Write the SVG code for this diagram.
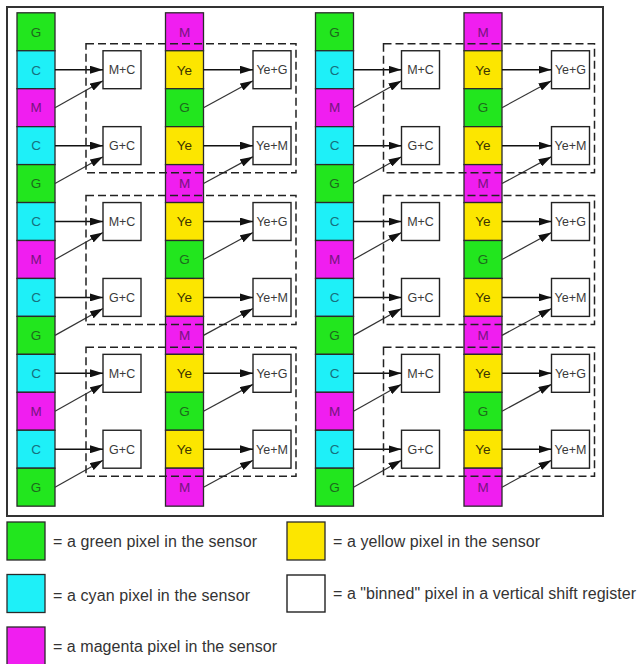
<svg xmlns="http://www.w3.org/2000/svg" width="637" height="664" viewBox="0 0 637 664">
<style>
text{font-family:"Liberation Sans",Arial,sans-serif}
.cg{fill:#22e61e;stroke:#2a2a2a;stroke-width:1.3}
.cc{fill:#1ef0f8;stroke:#2a2a2a;stroke-width:1.3}
.cm{fill:#f01ef0;stroke:#2a2a2a;stroke-width:1.3}
.cy{fill:#fce600;stroke:#2a2a2a;stroke-width:1.3}
.bx{fill:#fff;stroke:#222;stroke-width:1.4}
.t{font-size:13.5px;text-anchor:middle}
.tg{fill:#1d6a1d}.tc{fill:#17707e}.tm{fill:#76157f}.ty{fill:#3d3400}
.bt{font-size:12.5px;text-anchor:middle;fill:#3a3a3a}
.h{stroke:#111;stroke-width:1.5;fill:none}
.d{stroke:#333;stroke-width:1.2;fill:none}
.dash{fill:none;stroke:#222;stroke-width:1.5;stroke-dasharray:8 4}
.lt{font-size:16px;fill:#333}
</style>
<defs>
<marker id="ah" markerUnits="userSpaceOnUse" markerWidth="13" markerHeight="8" refX="13" refY="4" orient="auto"><path d="M0,0 L13,4 L0,8 z" fill="#111"/></marker>
</defs>
<rect id="frame" x="7" y="7" width="596" height="509" fill="#fff" stroke="#333" stroke-width="2"/>

<g id="colA">
<g id="a0" transform="translate(17,12.8)"><rect class="cg" width="38" height="37.95"/><text class="t tg" x="19" y="23.8">G</text></g>
<g id="a1" transform="translate(17,50.75)"><rect class="cc" width="38" height="37.95"/><text class="t tc" x="19" y="23.8">C</text></g>
<g id="a2" transform="translate(17,88.7)"><rect class="cm" width="38" height="37.95"/><text class="t tm" x="19" y="23.8">M</text></g>
<g id="a3" transform="translate(17,126.65)"><rect class="cc" width="38" height="37.95"/><text class="t tc" x="19" y="23.8">C</text></g>
<g id="a4" transform="translate(17,164.6)"><rect class="cg" width="38" height="37.95"/><text class="t tg" x="19" y="23.8">G</text></g>
<g id="a5" transform="translate(17,202.55)"><rect class="cc" width="38" height="37.95"/><text class="t tc" x="19" y="23.8">C</text></g>
<g id="a6" transform="translate(17,240.5)"><rect class="cm" width="38" height="37.95"/><text class="t tm" x="19" y="23.8">M</text></g>
<g id="a7" transform="translate(17,278.45)"><rect class="cc" width="38" height="37.95"/><text class="t tc" x="19" y="23.8">C</text></g>
<g id="a8" transform="translate(17,316.4)"><rect class="cg" width="38" height="37.95"/><text class="t tg" x="19" y="23.8">G</text></g>
<g id="a9" transform="translate(17,354.35)"><rect class="cc" width="38" height="37.95"/><text class="t tc" x="19" y="23.8">C</text></g>
<g id="a10" transform="translate(17,392.3)"><rect class="cm" width="38" height="37.95"/><text class="t tm" x="19" y="23.8">M</text></g>
<g id="a11" transform="translate(17,430.25)"><rect class="cc" width="38" height="37.95"/><text class="t tc" x="19" y="23.8">C</text></g>
<g id="a12" transform="translate(17,468.2)"><rect class="cg" width="38" height="37.95"/><text class="t tg" x="19" y="23.8">G</text></g>
</g>

<g id="colB">
<g id="b0" transform="translate(165.5,12.8)"><rect class="cm" width="38" height="37.95"/><text class="t tm" x="19" y="23.8">M</text></g>
<g id="b1" transform="translate(165.5,50.75)"><rect class="cy" width="38" height="37.95"/><text class="t ty" x="19" y="23.8">Ye</text></g>
<g id="b2" transform="translate(165.5,88.7)"><rect class="cg" width="38" height="37.95"/><text class="t tg" x="19" y="23.8">G</text></g>
<g id="b3" transform="translate(165.5,126.65)"><rect class="cy" width="38" height="37.95"/><text class="t ty" x="19" y="23.8">Ye</text></g>
<g id="b4" transform="translate(165.5,164.6)"><rect class="cm" width="38" height="37.95"/><text class="t tm" x="19" y="23.8">M</text></g>
<g id="b5" transform="translate(165.5,202.55)"><rect class="cy" width="38" height="37.95"/><text class="t ty" x="19" y="23.8">Ye</text></g>
<g id="b6" transform="translate(165.5,240.5)"><rect class="cg" width="38" height="37.95"/><text class="t tg" x="19" y="23.8">G</text></g>
<g id="b7" transform="translate(165.5,278.45)"><rect class="cy" width="38" height="37.95"/><text class="t ty" x="19" y="23.8">Ye</text></g>
<g id="b8" transform="translate(165.5,316.4)"><rect class="cm" width="38" height="37.95"/><text class="t tm" x="19" y="23.8">M</text></g>
<g id="b9" transform="translate(165.5,354.35)"><rect class="cy" width="38" height="37.95"/><text class="t ty" x="19" y="23.8">Ye</text></g>
<g id="b10" transform="translate(165.5,392.3)"><rect class="cg" width="38" height="37.95"/><text class="t tg" x="19" y="23.8">G</text></g>
<g id="b11" transform="translate(165.5,430.25)"><rect class="cy" width="38" height="37.95"/><text class="t ty" x="19" y="23.8">Ye</text></g>
<g id="b12" transform="translate(165.5,468.2)"><rect class="cm" width="38" height="37.95"/><text class="t tm" x="19" y="23.8">M</text></g>
</g>

<g id="colC">
<g id="c0" transform="translate(315.5,12.8)"><rect class="cg" width="38" height="37.95"/><text class="t tg" x="19" y="23.8">G</text></g>
<g id="c1" transform="translate(315.5,50.75)"><rect class="cc" width="38" height="37.95"/><text class="t tc" x="19" y="23.8">C</text></g>
<g id="c2" transform="translate(315.5,88.7)"><rect class="cm" width="38" height="37.95"/><text class="t tm" x="19" y="23.8">M</text></g>
<g id="c3" transform="translate(315.5,126.65)"><rect class="cc" width="38" height="37.95"/><text class="t tc" x="19" y="23.8">C</text></g>
<g id="c4" transform="translate(315.5,164.6)"><rect class="cg" width="38" height="37.95"/><text class="t tg" x="19" y="23.8">G</text></g>
<g id="c5" transform="translate(315.5,202.55)"><rect class="cc" width="38" height="37.95"/><text class="t tc" x="19" y="23.8">C</text></g>
<g id="c6" transform="translate(315.5,240.5)"><rect class="cm" width="38" height="37.95"/><text class="t tm" x="19" y="23.8">M</text></g>
<g id="c7" transform="translate(315.5,278.45)"><rect class="cc" width="38" height="37.95"/><text class="t tc" x="19" y="23.8">C</text></g>
<g id="c8" transform="translate(315.5,316.4)"><rect class="cg" width="38" height="37.95"/><text class="t tg" x="19" y="23.8">G</text></g>
<g id="c9" transform="translate(315.5,354.35)"><rect class="cc" width="38" height="37.95"/><text class="t tc" x="19" y="23.8">C</text></g>
<g id="c10" transform="translate(315.5,392.3)"><rect class="cm" width="38" height="37.95"/><text class="t tm" x="19" y="23.8">M</text></g>
<g id="c11" transform="translate(315.5,430.25)"><rect class="cc" width="38" height="37.95"/><text class="t tc" x="19" y="23.8">C</text></g>
<g id="c12" transform="translate(315.5,468.2)"><rect class="cg" width="38" height="37.95"/><text class="t tg" x="19" y="23.8">G</text></g>
</g>

<g id="colD">
<g id="d0" transform="translate(464,12.8)"><rect class="cm" width="38" height="37.95"/><text class="t tm" x="19" y="23.8">M</text></g>
<g id="d1" transform="translate(464,50.75)"><rect class="cy" width="38" height="37.95"/><text class="t ty" x="19" y="23.8">Ye</text></g>
<g id="d2" transform="translate(464,88.7)"><rect class="cg" width="38" height="37.95"/><text class="t tg" x="19" y="23.8">G</text></g>
<g id="d3" transform="translate(464,126.65)"><rect class="cy" width="38" height="37.95"/><text class="t ty" x="19" y="23.8">Ye</text></g>
<g id="d4" transform="translate(464,164.6)"><rect class="cm" width="38" height="37.95"/><text class="t tm" x="19" y="23.8">M</text></g>
<g id="d5" transform="translate(464,202.55)"><rect class="cy" width="38" height="37.95"/><text class="t ty" x="19" y="23.8">Ye</text></g>
<g id="d6" transform="translate(464,240.5)"><rect class="cg" width="38" height="37.95"/><text class="t tg" x="19" y="23.8">G</text></g>
<g id="d7" transform="translate(464,278.45)"><rect class="cy" width="38" height="37.95"/><text class="t ty" x="19" y="23.8">Ye</text></g>
<g id="d8" transform="translate(464,316.4)"><rect class="cm" width="38" height="37.95"/><text class="t tm" x="19" y="23.8">M</text></g>
<g id="d9" transform="translate(464,354.35)"><rect class="cy" width="38" height="37.95"/><text class="t ty" x="19" y="23.8">Ye</text></g>
<g id="d10" transform="translate(464,392.3)"><rect class="cg" width="38" height="37.95"/><text class="t tg" x="19" y="23.8">G</text></g>
<g id="d11" transform="translate(464,430.25)"><rect class="cy" width="38" height="37.95"/><text class="t ty" x="19" y="23.8">Ye</text></g>
<g id="d12" transform="translate(464,468.2)"><rect class="cm" width="38" height="37.95"/><text class="t tm" x="19" y="23.8">M</text></g>
</g>

<g id="boxes">
<g id="bl1" transform="translate(103,50.75)"><rect class="bx" width="38" height="37.95"/><text class="bt" x="19" y="23.3">M+C</text></g>
<g id="bl2" transform="translate(103,126.65)"><rect class="bx" width="38" height="37.95"/><text class="bt" x="19" y="23.3">G+C</text></g>
<g id="bl3" transform="translate(103,202.55)"><rect class="bx" width="38" height="37.95"/><text class="bt" x="19" y="23.3">M+C</text></g>
<g id="bl4" transform="translate(103,278.45)"><rect class="bx" width="38" height="37.95"/><text class="bt" x="19" y="23.3">G+C</text></g>
<g id="bl5" transform="translate(103,354.35)"><rect class="bx" width="38" height="37.95"/><text class="bt" x="19" y="23.3">M+C</text></g>
<g id="bl6" transform="translate(103,430.25)"><rect class="bx" width="38" height="37.95"/><text class="bt" x="19" y="23.3">G+C</text></g>
<g id="yl1" transform="translate(253,50.75)"><rect class="bx" width="38" height="37.95"/><text class="bt" x="19" y="23.3">Ye+G</text></g>
<g id="yl2" transform="translate(253,126.65)"><rect class="bx" width="38" height="37.95"/><text class="bt" x="19" y="23.3">Ye+M</text></g>
<g id="yl3" transform="translate(253,202.55)"><rect class="bx" width="38" height="37.95"/><text class="bt" x="19" y="23.3">Ye+G</text></g>
<g id="yl4" transform="translate(253,278.45)"><rect class="bx" width="38" height="37.95"/><text class="bt" x="19" y="23.3">Ye+M</text></g>
<g id="yl5" transform="translate(253,354.35)"><rect class="bx" width="38" height="37.95"/><text class="bt" x="19" y="23.3">Ye+G</text></g>
<g id="yl6" transform="translate(253,430.25)"><rect class="bx" width="38" height="37.95"/><text class="bt" x="19" y="23.3">Ye+M</text></g>
<g id="br1" transform="translate(401.5,50.75)"><rect class="bx" width="38" height="37.95"/><text class="bt" x="19" y="23.3">M+C</text></g>
<g id="br2" transform="translate(401.5,126.65)"><rect class="bx" width="38" height="37.95"/><text class="bt" x="19" y="23.3">G+C</text></g>
<g id="br3" transform="translate(401.5,202.55)"><rect class="bx" width="38" height="37.95"/><text class="bt" x="19" y="23.3">M+C</text></g>
<g id="br4" transform="translate(401.5,278.45)"><rect class="bx" width="38" height="37.95"/><text class="bt" x="19" y="23.3">G+C</text></g>
<g id="br5" transform="translate(401.5,354.35)"><rect class="bx" width="38" height="37.95"/><text class="bt" x="19" y="23.3">M+C</text></g>
<g id="br6" transform="translate(401.5,430.25)"><rect class="bx" width="38" height="37.95"/><text class="bt" x="19" y="23.3">G+C</text></g>
<g id="yr1" transform="translate(551.5,50.75)"><rect class="bx" width="38" height="37.95"/><text class="bt" x="19" y="23.3">Ye+G</text></g>
<g id="yr2" transform="translate(551.5,126.65)"><rect class="bx" width="38" height="37.95"/><text class="bt" x="19" y="23.3">Ye+M</text></g>
<g id="yr3" transform="translate(551.5,202.55)"><rect class="bx" width="38" height="37.95"/><text class="bt" x="19" y="23.3">Ye+G</text></g>
<g id="yr4" transform="translate(551.5,278.45)"><rect class="bx" width="38" height="37.95"/><text class="bt" x="19" y="23.3">Ye+M</text></g>
<g id="yr5" transform="translate(551.5,354.35)"><rect class="bx" width="38" height="37.95"/><text class="bt" x="19" y="23.3">Ye+G</text></g>
<g id="yr6" transform="translate(551.5,430.25)"><rect class="bx" width="38" height="37.95"/><text class="bt" x="19" y="23.3">Ye+M</text></g>
</g>

<g id="connectors">
<line class="h" x1="55" y1="69.73" x2="103" y2="69.73" marker-end="url(#ah)"/>
<line class="h" x1="55" y1="145.63" x2="103" y2="145.63" marker-end="url(#ah)"/>
<line class="h" x1="55" y1="221.53" x2="103" y2="221.53" marker-end="url(#ah)"/>
<line class="h" x1="55" y1="297.43" x2="103" y2="297.43" marker-end="url(#ah)"/>
<line class="h" x1="55" y1="373.33" x2="103" y2="373.33" marker-end="url(#ah)"/>
<line class="h" x1="55" y1="449.23" x2="103" y2="449.23" marker-end="url(#ah)"/>
<line class="d" x1="55" y1="107.68" x2="103" y2="80.75" marker-end="url(#ah)"/>
<line class="d" x1="55" y1="183.58" x2="103" y2="156.65" marker-end="url(#ah)"/>
<line class="d" x1="55" y1="259.48" x2="103" y2="232.55" marker-end="url(#ah)"/>
<line class="d" x1="55" y1="335.38" x2="103" y2="308.45" marker-end="url(#ah)"/>
<line class="d" x1="55" y1="411.28" x2="103" y2="384.35" marker-end="url(#ah)"/>
<line class="d" x1="55" y1="487.18" x2="103" y2="460.25" marker-end="url(#ah)"/>

<line class="h" x1="203.5" y1="69.73" x2="253" y2="69.73" marker-end="url(#ah)"/>
<line class="h" x1="203.5" y1="145.63" x2="253" y2="145.63" marker-end="url(#ah)"/>
<line class="h" x1="203.5" y1="221.53" x2="253" y2="221.53" marker-end="url(#ah)"/>
<line class="h" x1="203.5" y1="297.43" x2="253" y2="297.43" marker-end="url(#ah)"/>
<line class="h" x1="203.5" y1="373.33" x2="253" y2="373.33" marker-end="url(#ah)"/>
<line class="h" x1="203.5" y1="449.23" x2="253" y2="449.23" marker-end="url(#ah)"/>
<line class="d" x1="203.5" y1="107.68" x2="253" y2="80.75" marker-end="url(#ah)"/>
<line class="d" x1="203.5" y1="183.58" x2="253" y2="156.65" marker-end="url(#ah)"/>
<line class="d" x1="203.5" y1="259.48" x2="253" y2="232.55" marker-end="url(#ah)"/>
<line class="d" x1="203.5" y1="335.38" x2="253" y2="308.45" marker-end="url(#ah)"/>
<line class="d" x1="203.5" y1="411.28" x2="253" y2="384.35" marker-end="url(#ah)"/>
<line class="d" x1="203.5" y1="487.18" x2="253" y2="460.25" marker-end="url(#ah)"/>

<line class="h" x1="353.5" y1="69.73" x2="401.5" y2="69.73" marker-end="url(#ah)"/>
<line class="h" x1="353.5" y1="145.63" x2="401.5" y2="145.63" marker-end="url(#ah)"/>
<line class="h" x1="353.5" y1="221.53" x2="401.5" y2="221.53" marker-end="url(#ah)"/>
<line class="h" x1="353.5" y1="297.43" x2="401.5" y2="297.43" marker-end="url(#ah)"/>
<line class="h" x1="353.5" y1="373.33" x2="401.5" y2="373.33" marker-end="url(#ah)"/>
<line class="h" x1="353.5" y1="449.23" x2="401.5" y2="449.23" marker-end="url(#ah)"/>
<line class="d" x1="353.5" y1="107.68" x2="401.5" y2="80.75" marker-end="url(#ah)"/>
<line class="d" x1="353.5" y1="183.58" x2="401.5" y2="156.65" marker-end="url(#ah)"/>
<line class="d" x1="353.5" y1="259.48" x2="401.5" y2="232.55" marker-end="url(#ah)"/>
<line class="d" x1="353.5" y1="335.38" x2="401.5" y2="308.45" marker-end="url(#ah)"/>
<line class="d" x1="353.5" y1="411.28" x2="401.5" y2="384.35" marker-end="url(#ah)"/>
<line class="d" x1="353.5" y1="487.18" x2="401.5" y2="460.25" marker-end="url(#ah)"/>

<line class="h" x1="502" y1="69.73" x2="551.5" y2="69.73" marker-end="url(#ah)"/>
<line class="h" x1="502" y1="145.63" x2="551.5" y2="145.63" marker-end="url(#ah)"/>
<line class="h" x1="502" y1="221.53" x2="551.5" y2="221.53" marker-end="url(#ah)"/>
<line class="h" x1="502" y1="297.43" x2="551.5" y2="297.43" marker-end="url(#ah)"/>
<line class="h" x1="502" y1="373.33" x2="551.5" y2="373.33" marker-end="url(#ah)"/>
<line class="h" x1="502" y1="449.23" x2="551.5" y2="449.23" marker-end="url(#ah)"/>
<line class="d" x1="502" y1="107.68" x2="551.5" y2="80.75" marker-end="url(#ah)"/>
<line class="d" x1="502" y1="183.58" x2="551.5" y2="156.65" marker-end="url(#ah)"/>
<line class="d" x1="502" y1="259.48" x2="551.5" y2="232.55" marker-end="url(#ah)"/>
<line class="d" x1="502" y1="335.38" x2="551.5" y2="308.45" marker-end="url(#ah)"/>
<line class="d" x1="502" y1="411.28" x2="551.5" y2="384.35" marker-end="url(#ah)"/>
<line class="d" x1="502" y1="487.18" x2="551.5" y2="460.25" marker-end="url(#ah)"/>
</g>

<g id="groups">
<rect class="dash" x="86" y="43.75" width="210" height="129"/>
<rect class="dash" x="86" y="195.55" width="210" height="129"/>
<rect class="dash" x="86" y="347.35" width="210" height="129"/>
<rect class="dash" x="383.5" y="43.75" width="211" height="129"/>
<rect class="dash" x="383.5" y="195.55" width="211" height="129"/>
<rect class="dash" x="383.5" y="347.35" width="211" height="129"/>
</g>

<g id="legend">
<g id="lg-green"><rect class="cg" x="7" y="522" width="38" height="38"/><text class="lt" x="53" y="546.5" textLength="204" lengthAdjust="spacing">= a green pixel in the sensor</text></g>
<g id="lg-cyan"><rect class="cc" x="7" y="574.5" width="38" height="38"/><text class="lt" x="53" y="601" textLength="197" lengthAdjust="spacing">= a cyan pixel in the sensor</text></g>
<g id="lg-magenta"><rect class="cm" x="7" y="627" width="38" height="38"/><text class="lt" x="53" y="651.5" textLength="224" lengthAdjust="spacing">= a magenta pixel in the sensor</text></g>
<g id="lg-yellow"><rect class="cy" x="287" y="522" width="38" height="38"/><text class="lt" x="333" y="546.5" textLength="207" lengthAdjust="spacing">= a yellow pixel in the sensor</text></g>
<g id="lg-binned"><rect class="bx" x="287" y="575" width="38" height="37"/><text class="lt" x="333" y="599" textLength="303" lengthAdjust="spacing">= a "binned" pixel in a vertical shift register</text></g>
</g>
</svg>
